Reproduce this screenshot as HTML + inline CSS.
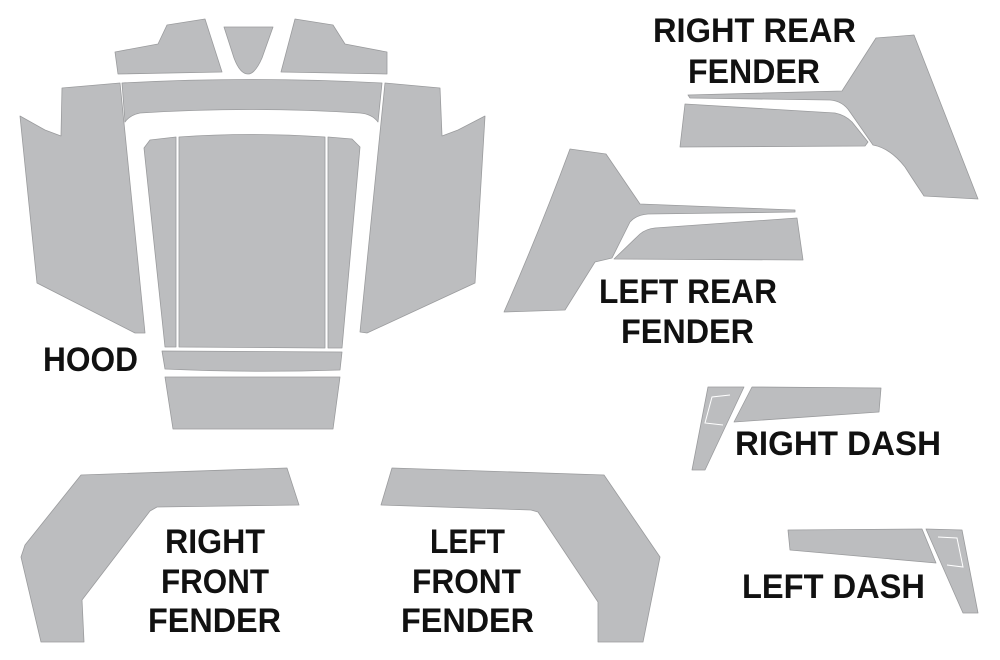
<!DOCTYPE html>
<html><head><style>html,body{margin:0;padding:0;background:#fff}svg{display:block}</style></head>
<body>
<svg width="1000" height="660" viewBox="0 0 1000 660" xmlns="http://www.w3.org/2000/svg">
<g fill="#bcbdbf" stroke="#9a9b9d" stroke-width="0.8" stroke-linejoin="round">
<!-- hood -->
<polygon points="115,52 158,44 167,25 205,19 222,72 118,74"/>
<path d="M224,27 L273,27 L262,58 Q255,74 248,74 Q240,74 234,58 Z"/>
<polygon points="295,19 333,25 345,44 387,52 387,74 281,72"/>
<path d="M122,83 Q250,76 382,83 L378,122 Q372,114 360,113 Q250,106 140,113 Q130,115 125,122 Z"/>
<polygon points="20,116 45,130 61,136 62,88 120,83 145,333 135,333 37,283"/>
<polygon points="385,83 440,88 442,136 458,130 485,116 475,283 367,333 360,332"/>
<polygon points="144,148 150,140 176,137 176,347 165,347"/>
<path d="M179,137 Q250,132 325,137 L325,348 L179,347 Z"/>
<polygon points="328,137 352,139 360,147 342,348 328,348"/>
<path d="M162,351 L342,352 L340,370 Q250,373 165,369 Z"/>
<polygon points="165,377 340,377 333,429 173,429"/>
<!-- right rear fender -->
<path d="M876,38 L914,35 L978,199 L924,196 Q912,178 905,167 Q890,148 873,145 L850,112 Q843,101 830,100 L690,98 L688,95 L842,91 Z"/>
<path d="M685,104 L835,113 Q845,115 852,122 L868,142 L865,146 L680,147 Z"/>
<!-- left rear fender -->
<path d="M570,149 L606,154 L640,204 L795,210 L795,212 L648,214 Q636,215 630,222 L612,258 L595,262 L565,310 L504,312 Q540,230 570,149 Z"/>
<path d="M614,259 L640,234 Q646,229 655,228 L797,218 L803,260 Z"/>
<!-- front fenders -->
<polygon points="81,475 287,468 299,505 157,507 150,511 82,600 84,642 41,642 21,557 25,545"/>
<polygon points="392,468 604,475 660,557 643,642 598,642 598,602 538,512 531,510 381,505"/>
<!-- dashes -->
<polygon points="708,387 744,387 705,470 692,470"/>
<polygon points="752,387 881,388 879,412 734,422"/>
<polygon points="788,530 922,529 936,563 790,550"/>
<polygon points="926,529 962,530 978,613 963,613"/>
</g>
<g fill="none" stroke="#fff" stroke-width="1">
<polyline points="730,395 712,397 705,423 723,425"/>
<polyline points="938,537 957,538 963,567 947,565"/>
</g>
<g font-family="'Liberation Sans',sans-serif" font-weight="bold" font-size="34" fill="#111">
<text x="43" y="371" textLength="95" lengthAdjust="spacingAndGlyphs">HOOD</text>
<text x="653" y="42" textLength="203" lengthAdjust="spacingAndGlyphs">RIGHT REAR</text>
<text x="688" y="83" textLength="132" lengthAdjust="spacingAndGlyphs">FENDER</text>
<text x="599" y="303" textLength="178" lengthAdjust="spacingAndGlyphs">LEFT REAR</text>
<text x="621" y="343" textLength="133" lengthAdjust="spacingAndGlyphs">FENDER</text>
<text x="735" y="455" textLength="206" lengthAdjust="spacingAndGlyphs">RIGHT DASH</text>
<text x="742" y="598" textLength="183" lengthAdjust="spacingAndGlyphs">LEFT DASH</text>
<text x="165" y="553" textLength="100" lengthAdjust="spacingAndGlyphs">RIGHT</text>
<text x="161" y="593" textLength="108" lengthAdjust="spacingAndGlyphs">FRONT</text>
<text x="148" y="632" textLength="133" lengthAdjust="spacingAndGlyphs">FENDER</text>
<text x="430" y="553" textLength="75" lengthAdjust="spacingAndGlyphs">LEFT</text>
<text x="412" y="593" textLength="109" lengthAdjust="spacingAndGlyphs">FRONT</text>
<text x="401" y="632" textLength="133" lengthAdjust="spacingAndGlyphs">FENDER</text>
</g>
</svg>
</body></html>
